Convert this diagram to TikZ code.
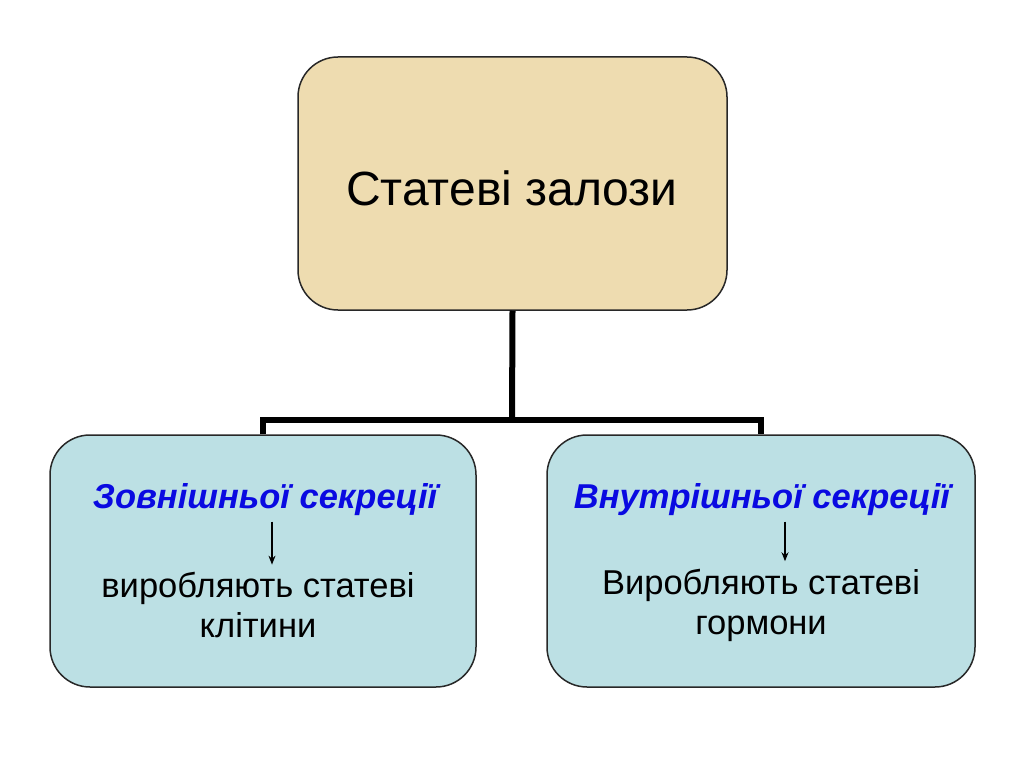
\documentclass[tikz,border=0pt]{standalone}
\usepackage{fontspec}
\setmainfont{Liberation Sans}
\usepackage{tikz}
\usetikzlibrary{arrows.meta,positioning}
\definecolor{glandtan}{RGB}{238,220,176}
\definecolor{glandblue}{RGB}{188,224,228}
\definecolor{titleblue}{RGB}{10,10,225}
\definecolor{edgegray}{RGB}{40,40,40}

\begin{document}
\begin{tikzpicture}[x=1pt, y=-1pt,
  glandbox/.style={draw=edgegray, line width=1.5pt, rounded corners=40pt},
  tree/.style={line width=6pt, black},
  arr/.style={-{Stealth[length=9pt, width=7pt]}, line width=1.2pt},
  maintxt/.style={font=\fontsize{48}{56}\selectfont},
  kindtxt/.style={font=\fontsize{34.5}{40}\selectfont\bfseries\itshape, text=titleblue},
  bodytxt/.style={font=\fontsize{34.5}{40}\selectfont, align=center}
]
\useasboundingbox (0,0) rectangle (1024,767);

\node[glandbox, fill=glandtan, minimum width=429pt, minimum height=253pt] (glands) at (512.5,183.5) {};
\node[glandbox, fill=glandblue, minimum width=426pt, minimum height=252pt] (exo) at (263,561) {};
\node[glandbox, fill=glandblue, minimum width=428pt, minimum height=252pt] (endo) at (761,561) {};

\node[maintxt] (glandstxt) at (512,188) {Статеві залози};

\node[kindtxt] (exotitle) at (265,500) {Зовнішньої секреції};
\node[bodytxt] (exobody) at (258,605) {виробляють статеві\\клітини};
\node[kindtxt] (endotitle) at (762,500) {Внутрішньої секреції};
\node[bodytxt] (endobody) at (761,605) {Виробляють статеві\\гормони};

\coordinate (fork) at (512,420);
\draw[tree] (glands.south) -- (fork);
\draw[tree] (exo.north) -- (exo.north |- fork) -- (endo.north |- fork) -- (endo.north);

\draw[arr] ([xshift=7pt, yshift=-2pt]exotitle.south) -- ([xshift=14pt, yshift=4pt]exobody.north);
\draw[arr] ([xshift=23pt, yshift=-2pt]endotitle.south) -- ([xshift=24pt, yshift=4pt]endobody.north);
\end{tikzpicture}
\end{document}
